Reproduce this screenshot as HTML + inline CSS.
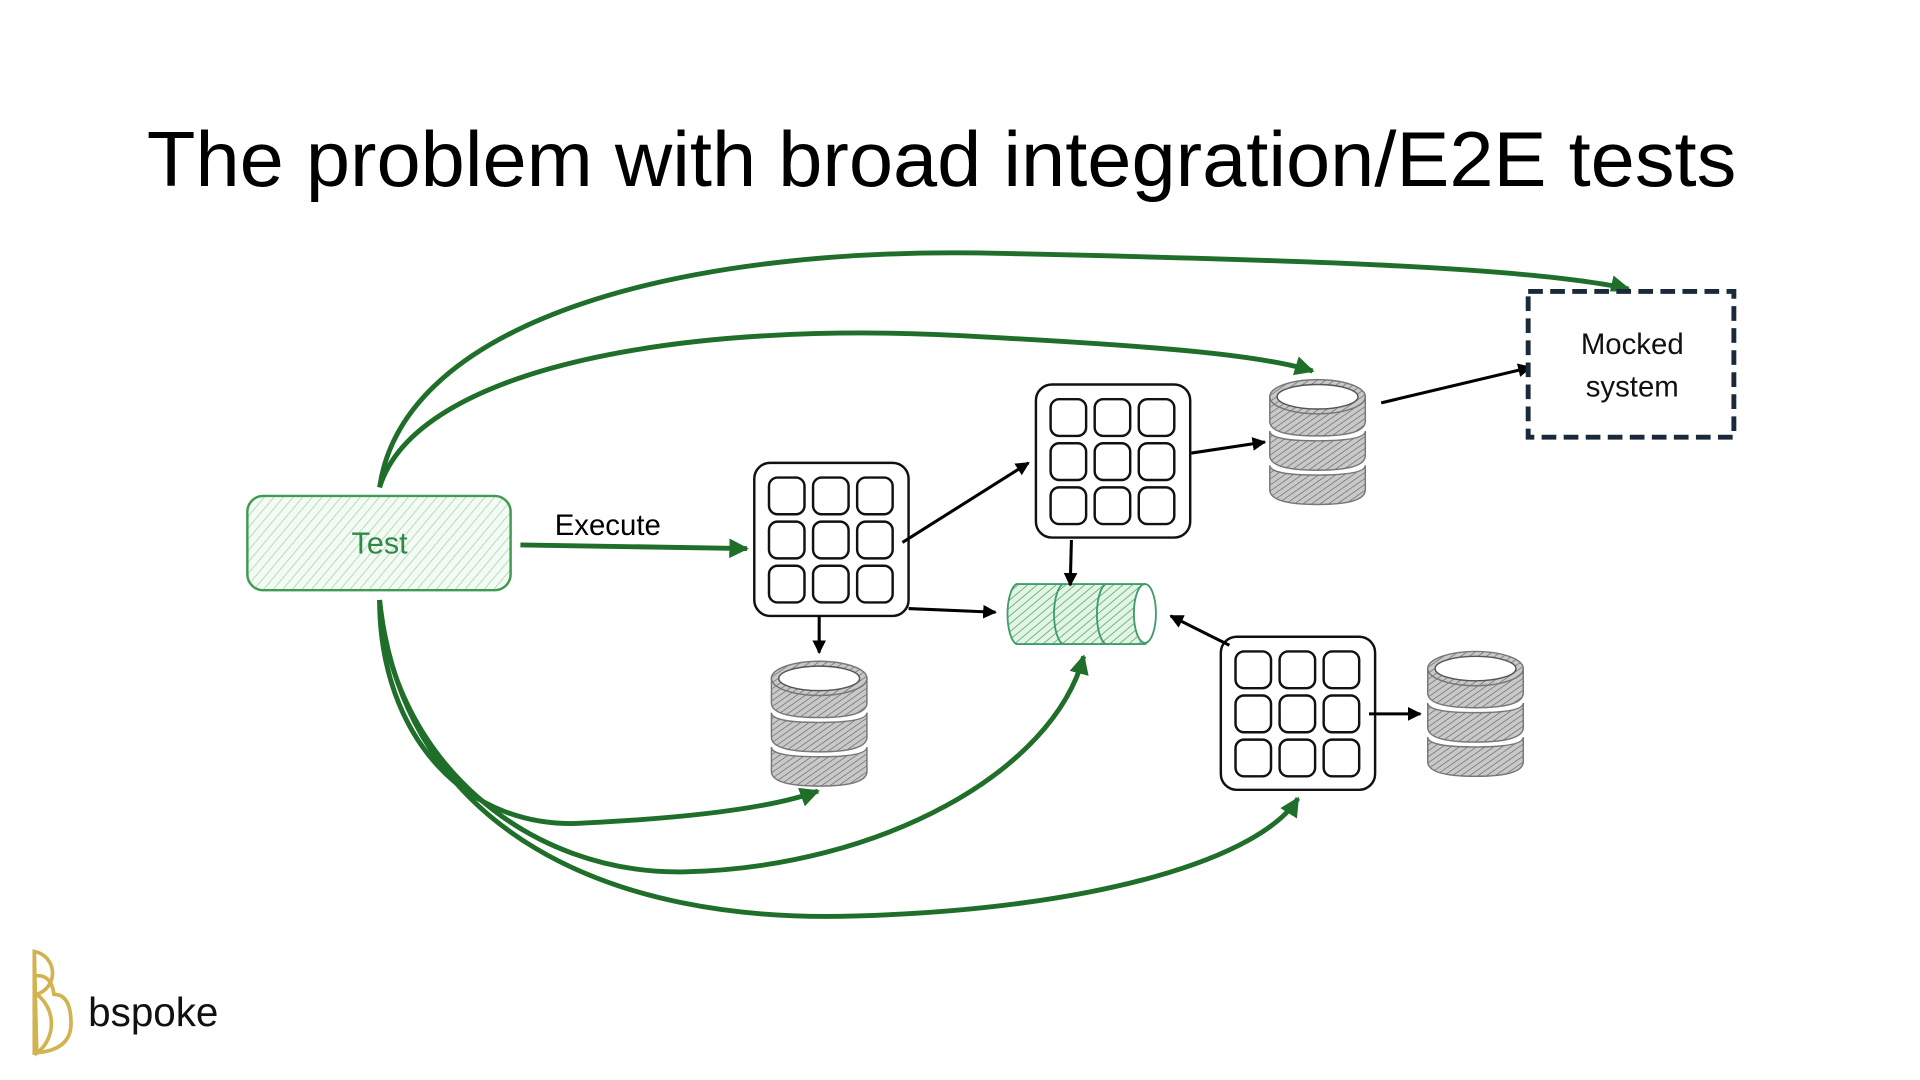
<!DOCTYPE html>
<html><head><meta charset="utf-8"><style>
html,body{margin:0;padding:0;background:#fff;width:1920px;height:1080px;overflow:hidden}
svg{display:block}
text{font-family:"Liberation Sans",sans-serif}
</style></head><body>
<svg width="1920" height="1080" viewBox="0 0 1568 882" preserveAspectRatio="none" xmlns="http://www.w3.org/2000/svg">
<defs>
<pattern id="hg" width="6" height="6" patternUnits="userSpaceOnUse" patternTransform="rotate(40)"><rect width="6" height="6" fill="#f4fbf4"/><line x1="0" y1="0" x2="0" y2="6" stroke="#9fd4a7" stroke-width="1.2"/></pattern>
<pattern id="hq" width="5" height="5" patternUnits="userSpaceOnUse" patternTransform="rotate(50)"><rect width="5" height="5" fill="#e3f3e5"/><line x1="0" y1="0" x2="0" y2="5" stroke="#4fae68" stroke-width="1.3"/></pattern>
<pattern id="hd" width="4" height="4" patternUnits="userSpaceOnUse" patternTransform="rotate(55)"><rect width="4" height="4" fill="#c9c9c9"/><line x1="0" y1="0" x2="0" y2="4" stroke="#6e6e6e" stroke-width="1.2"/></pattern>
<marker id="ab" viewBox="0 0 10 10" refX="9" refY="5" markerWidth="4.5" markerHeight="4.5" orient="auto"><path d="M0,0 L10,5 L0,10 z" fill="#000"/></marker>
<marker id="ag" viewBox="0 0 10 10" refX="9" refY="5" markerWidth="4" markerHeight="4" orient="auto"><path d="M0,0 L10,5 L0,10 z" fill="#1f6e2a"/></marker>
<g id="grid">
<rect x="0" y="0" width="126" height="125" rx="13" fill="#fff" stroke="#111" stroke-width="2"/>
<rect x="12" y="12" width="29" height="30" rx="7" fill="#fff" stroke="#111" stroke-width="2"/>
<rect x="48" y="12" width="29" height="30" rx="7" fill="#fff" stroke="#111" stroke-width="2"/>
<rect x="84" y="12" width="29" height="30" rx="7" fill="#fff" stroke="#111" stroke-width="2"/>
<rect x="12" y="48" width="29" height="30" rx="7" fill="#fff" stroke="#111" stroke-width="2"/>
<rect x="48" y="48" width="29" height="30" rx="7" fill="#fff" stroke="#111" stroke-width="2"/>
<rect x="84" y="48" width="29" height="30" rx="7" fill="#fff" stroke="#111" stroke-width="2"/>
<rect x="12" y="84" width="29" height="30" rx="7" fill="#fff" stroke="#111" stroke-width="2"/>
<rect x="48" y="84" width="29" height="30" rx="7" fill="#fff" stroke="#111" stroke-width="2"/>
<rect x="84" y="84" width="29" height="30" rx="7" fill="#fff" stroke="#111" stroke-width="2"/>
</g>
<g id="db">
<path d="M0,72 L0,92 Q0,104 39,104 Q78,104 78,92 L78,72 Q78,80 39,80 Q0,80 0,72 z" fill="url(#hd)" stroke="#777" stroke-width="1.2"/>
<path d="M0,44 L0,64 Q0,76 39,76 Q78,76 78,64 L78,44 Q78,52 39,52 Q0,52 0,44 z" fill="url(#hd)" stroke="#777" stroke-width="1.2"/>
<path d="M0,16 L0,36 Q0,48 39,48 Q78,48 78,36 L78,16 z" fill="url(#hd)" stroke="#777" stroke-width="1.2"/>
<ellipse cx="39" cy="16" rx="39" ry="14" fill="url(#hd)" stroke="#777" stroke-width="1.2"/>
<ellipse cx="39" cy="16" rx="33" ry="10" fill="#fff" stroke="#555" stroke-width="1.2"/>
</g>
</defs>

<text x="769" y="152" font-size="64" text-anchor="middle" textLength="1298" lengthAdjust="spacingAndGlyphs" fill="#000">The problem with broad integration/E2E tests</text>

<g fill="none" stroke="#1f6e2a" stroke-width="4" marker-end="url(#ag)">
<path d="M310,398 C330,260 560,200 820,207 C1050,212 1250,218 1330,236"/>
<path d="M310,398 C340,300 560,260 800,275 C950,283 1030,290 1072,303"/>
<path d="M310,490 C310,600 380,680 480,672 C560,668 630,660 668,646"/>
<path d="M310,490 C320,620 430,715 560,712 C720,708 860,630 885,536"/>
<path d="M310,490 C330,680 500,755 700,748 C900,742 1030,700 1060,652"/>
<path d="M425,445 L610,448"/>
</g>

<rect x="202" y="405" width="215" height="77" rx="13" fill="url(#hg)" stroke="#3f9b52" stroke-width="2"/>
<text x="310" y="452" font-size="25" text-anchor="middle" fill="#2f8a45" font-family="'Comic Sans MS','DejaVu Sans',sans-serif">Test</text>
<text x="453" y="437" font-size="24" fill="#000">Execute</text>

<use href="#grid" x="616" y="378"/>
<use href="#grid" x="846" y="314"/>
<use href="#grid" x="997" y="520"/>
<use href="#db" x="630" y="538"/>
<use href="#db" x="1037" y="308"/>
<use href="#db" x="1166" y="530"/>

<path d="M830,477 L935,477 A10,25 0 0 1 935,526 L830,526 A9,25 0 0 1 830,477 z" fill="url(#hq)" stroke="#3f9b6a" stroke-width="1.5"/>
<path d="M868,477 A9,25 0 0 0 868,526 M903,477 A9,25 0 0 0 903,526" fill="none" stroke="#3f9b6a" stroke-width="1.5"/>
<ellipse cx="935" cy="501" rx="9" ry="24" fill="#fff" stroke="#3f9b6a" stroke-width="1.5"/>

<g stroke="#000" stroke-width="2.5" fill="none" marker-end="url(#ab)">
<path d="M737,443 L840,378"/>
<path d="M742,497 L813,500"/>
<path d="M669,503 L669,533"/>
<path d="M875,441 L874,478"/>
<path d="M1004,527 L956,503"/>
<path d="M973,370 L1033,361"/>
<path d="M1118,583 L1160,583"/>
<path d="M1128,329 L1250,300"/>
</g>

<rect x="1248" y="238" width="168" height="119" fill="#fff" stroke="#1b2a3a" stroke-width="4" stroke-dasharray="12,6"/>
<text x="1333" y="289" font-size="24" text-anchor="middle" fill="#111">Mocked</text>
<text x="1333" y="324" font-size="24" text-anchor="middle" fill="#111">system</text>

<path d="M28,777 A18,18 0 0 1 30,812 A30,30 0 0 1 30,860 Z" fill="none" stroke="#d2b350" stroke-width="3"/>
<path d="M28,797 Q42,795 44,812 Q58,812 58,836 Q58,858 28,860 L28,777" fill="none" stroke="#d2b350" stroke-width="3"/>
<text x="72" y="838" font-size="33" fill="#111">bspoke</text>
</svg>
</body></html>
